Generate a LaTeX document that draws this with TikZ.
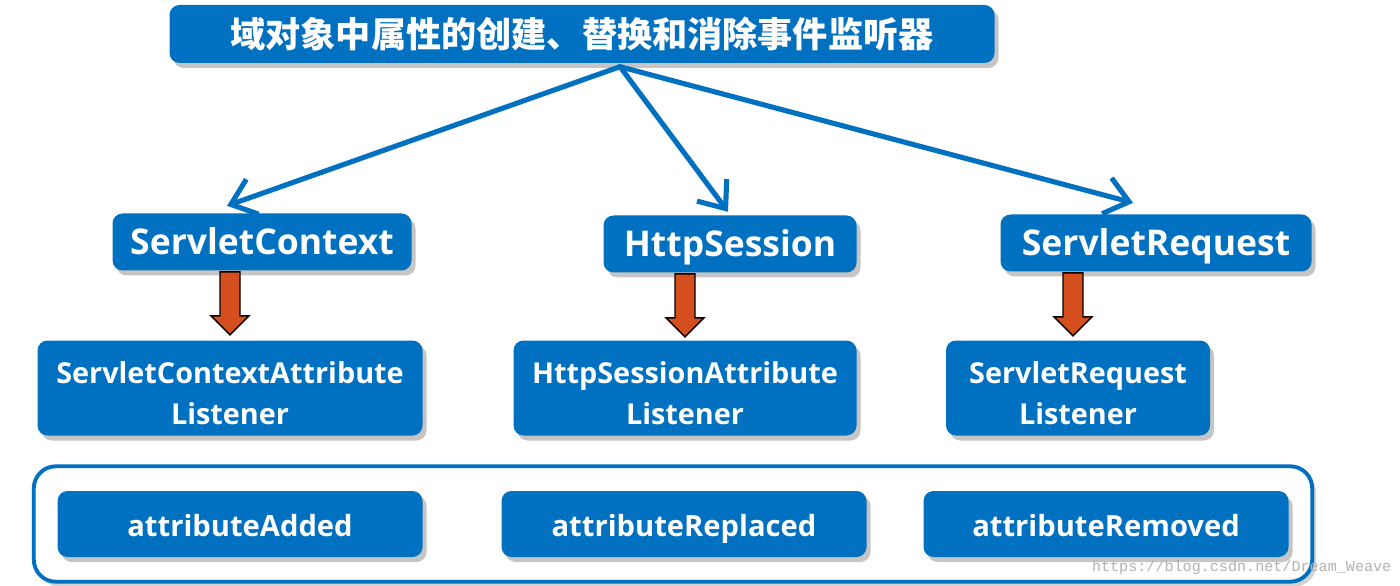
\documentclass[tikz,border=0pt]{standalone}
\usepackage{fontspec}
\setmainfont{Open Sans}
\newfontfamily\cjkfont{Noto Sans CJK SC}
\newfontfamily\urlfont{Liberation Mono}
\usetikzlibrary{arrows.meta, shapes.arrows, shadows, fit, calc, backgrounds}

\definecolor{boxblue}{RGB}{0,112,192}
\definecolor{arrowred}{RGB}{212,78,30}
\newcommand{\twolines}[2]{\raisebox{-0.8mm}[\height][\depth]{\begin{tabular}{@{}c@{}}#1\\#2\end{tabular}}}

\begin{document}
\begin{tikzpicture}[
    x=0.1mm, y=-0.1mm,
    box/.style={rectangle, rounded corners=1mm, fill=boxblue, text=white, align=center, inner sep=0pt,
        drop shadow={shadow xshift=0.4mm, shadow yshift=-0.5mm, fill=black!50, opacity=0.45}},
    titlebox/.style={box, minimum width=82.5mm, minimum height=5.8mm, font=\cjkfont\bfseries\fontsize{10}{12}\selectfont},
    classbox/.style={box, minimum height=5.7mm, text height=0.72em, text depth=0pt, font=\bfseries\fontsize{10.1}{13}\selectfont},
    listenerbox/.style={box, minimum height=9.5mm, font=\bfseries\fontsize{8.2}{11.7}\selectfont},
    methodbox/.style={box, minimum width=36.5mm, minimum height=6.6mm, text height=0.72em, text depth=0pt, font=\bfseries\fontsize{8.3}{11}\selectfont},
    arrow/.style={draw=boxblue, line width=1.45pt, line cap=round, -{Straight Barb[length=2.3mm, width=3.7mm, line width=1.45pt]}},
    downarrow/.style={single arrow, shape border rotate=270, fill=arrowred, draw=black, line width=0.4pt,
        minimum height=6.3mm, single arrow head extend=0.9mm, single arrow head indent=0pt, inner sep=0.93mm},
    container/.style={draw=boxblue, line width=1.1pt, rounded corners=2.2mm, fill=white, inner xsep=2.3mm, inner ysep=2.4mm,
        drop shadow={shadow xshift=0.4mm, shadow yshift=-0.5mm, fill=black!50, opacity=0.35}}
]
\useasboundingbox (0,0) rectangle (1400,586);

% title
\node[titlebox] (title) at (582,34) {域对象中属性的创建、替换和消除事件监听器};
\coordinate (hub) at ($(title.south)+(38,3)$);

% scopes
\node[classbox, minimum width=29.9mm] (ctx) at (262,242) {ServletContext};
\node[classbox, minimum width=25.3mm] (sess) at (730,244) {HttpSession};
\node[classbox, minimum width=31.1mm] (req) at (1156,243) {ServletRequest};

\draw[arrow] (hub) -- ($(ctx.north)+(-35,-7)$);
\draw[arrow] (hub) -- ($(sess.north)+(-2,-3)$);
\draw[arrow] (hub) -- ($(req.north)+(-23,-11)$);

% listeners
\node[listenerbox, minimum width=38.5mm] (ctxL) at (230,388) {\twolines{ServletContextAttribute}{Listener}};
\node[listenerbox, minimum width=34.3mm] (sessL) at (685,388) {\twolines{HttpSessionAttribute}{Listener}};
\node[listenerbox, minimum width=26.4mm] (reqL) at (1078,388) {\twolines{ServletRequest}{Listener}};

\node[downarrow, anchor=tail] (ctxArr) at (ctx.south -| ctxL.north) {};
\node[downarrow, anchor=tail] (sessArr) at (sess.south -| sessL.north) {};
\node[downarrow, anchor=tail, xshift=-0.5mm] (reqArr) at (req.south -| reqL.north) {};

% methods
\node[methodbox] (add) at (240,524) {attributeAdded};
\node[methodbox] (rep) at (684,524) {attributeReplaced};
\node[methodbox] (rem) at (1106,524) {attributeRemoved};

\begin{scope}[on background layer]
\fill[white] (0,0) rectangle (1400,586);
\node[container, fit=(add)(rem)] (methods) {};
\end{scope}

\node[text=black!30, inner sep=0pt, font=\urlfont\fontsize{4.3}{5}\selectfont, anchor=east] (url) at (1392,568) {https://blog.csdn.net/Dream\_Weave};
\end{tikzpicture}
\end{document}
